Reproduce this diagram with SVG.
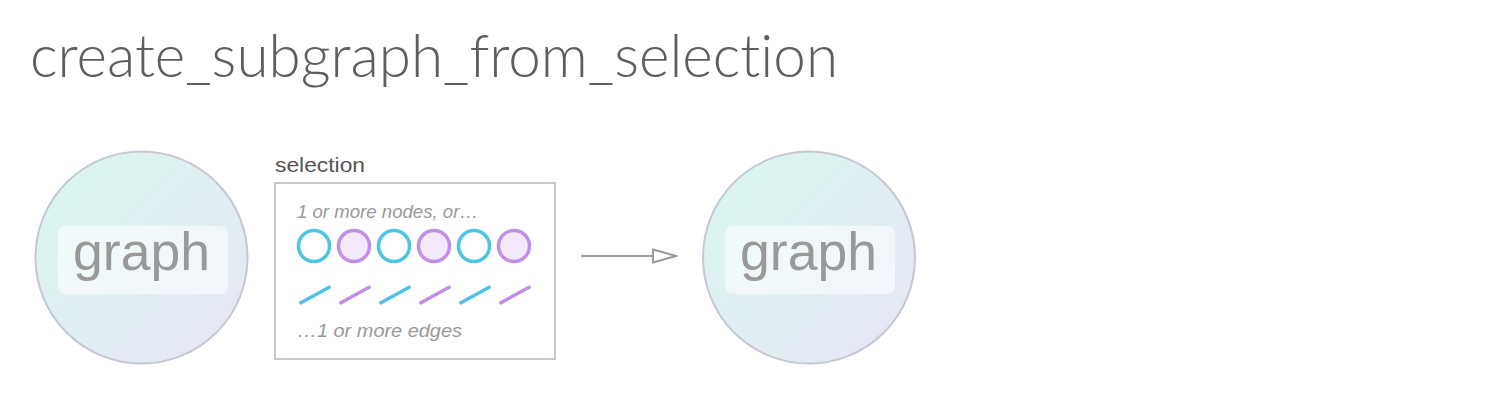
<svg xmlns="http://www.w3.org/2000/svg" width="1510" height="402" viewBox="0 0 1510 402">
<defs>
<linearGradient id="gg" x1="0" y1="0" x2="1" y2="1">
<stop offset="0" stop-color="#d8f7ee"/>
<stop offset="1" stop-color="#e8e6f6"/>
</linearGradient>
<marker id="arr" viewBox="0 0 26 16" refX="24" refY="8" markerWidth="26" markerHeight="16" markerUnits="userSpaceOnUse" orient="auto">
<path d="M1,1.5 L24,8 L1,14.5 Z" fill="#fff" stroke="#9a9a9a" stroke-width="2"/>
</marker>
<style>
.graph{fill:url(#gg);stroke:#c5c7d5;stroke-width:2}
.lbl{fill:#fff;fill-opacity:0.55}
.gt{font-family:"Liberation Sans",Arial,sans-serif;font-size:53px;fill:#999}
.it{font-family:"Liberation Sans",Arial,sans-serif;font-size:18.5px;font-style:italic;fill:#999}
.cn{fill:#fff;stroke:#4ec3e2;stroke-width:3.5}
.pn{fill:#f2e9fa;stroke:#c38ee6;stroke-width:3.5}
.ce{stroke:#4ec3e2;stroke-width:3.5}
.pe{stroke:#c38ee6;stroke-width:3.5}
.title{font-family:Lato,"Liberation Sans",Arial,sans-serif;font-weight:300;font-size:59px;fill:#5e5e5e;font-variant-ligatures:none;font-feature-settings:"liga" 0,"dlig" 0}
</style>
</defs>
<rect width="1510" height="402" fill="#fff"/>
<text class="title" x="30" y="77" textLength="808" lengthAdjust="spacingAndGlyphs">create_subgraph_from_selection</text>
<g id="graph-in">
<circle class="graph" cx="141.5" cy="257.5" r="106"/>
<rect class="lbl" x="58" y="226" width="170" height="68" rx="8"/>
<text class="gt" x="73" y="270" textLength="137" lengthAdjust="spacingAndGlyphs">graph</text>
</g>
<g id="selection">
<text x="275" y="172" font-family="Liberation Sans,Arial,sans-serif" font-size="21" fill="#555" textLength="90" lengthAdjust="spacingAndGlyphs">selection</text>
<rect x="275" y="183" width="280" height="176" fill="#fff" stroke="#c5c7d5" stroke-width="2"/>
<text class="it" x="297" y="218" textLength="181" lengthAdjust="spacingAndGlyphs">1 or more nodes, or…</text>
<circle class="cn" cx="314" cy="246" r="15.5"/>
<circle class="pn" cx="354" cy="246" r="15.5"/>
<circle class="cn" cx="394" cy="246" r="15.5"/>
<circle class="pn" cx="434" cy="246" r="15.5"/>
<circle class="cn" cx="474" cy="246" r="15.5"/>
<circle class="pn" cx="514" cy="246" r="15.5"/>
<line class="ce" x1="299.5" y1="303.5" x2="330.5" y2="286.5"/>
<line class="pe" x1="339.5" y1="303.5" x2="370.5" y2="286.5"/>
<line class="ce" x1="379.5" y1="303.5" x2="410.5" y2="286.5"/>
<line class="pe" x1="419.5" y1="303.5" x2="450.5" y2="286.5"/>
<line class="ce" x1="459.5" y1="303.5" x2="490.5" y2="286.5"/>
<line class="pe" x1="499.5" y1="303.5" x2="530.5" y2="286.5"/>
<text class="it" x="297" y="337" textLength="165" lengthAdjust="spacingAndGlyphs">…1 or more edges</text>
</g>
<g id="connectors">
<line x1="581" y1="256" x2="676" y2="256" stroke="#9a9a9a" stroke-width="2" marker-end="url(#arr)"/>
</g>
<g id="graph-out">
<circle class="graph" cx="809" cy="257.5" r="106"/>
<rect class="lbl" x="725" y="226" width="170" height="68" rx="8"/>
<text class="gt" x="740" y="270" textLength="137" lengthAdjust="spacingAndGlyphs">graph</text>
</g>
</svg>
